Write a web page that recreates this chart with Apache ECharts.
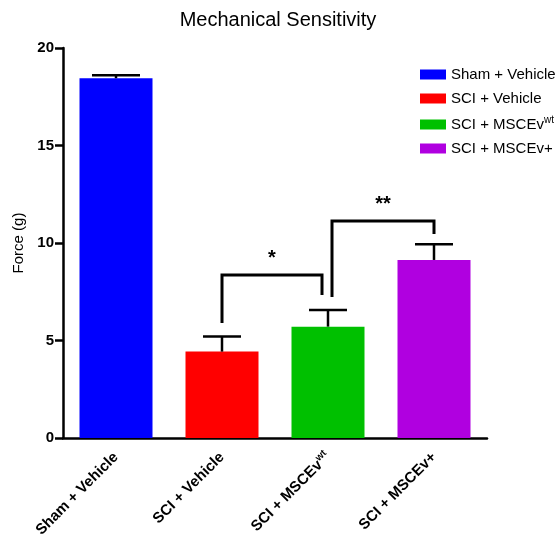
<!DOCTYPE html>
<html>
<head>
<meta charset="utf-8">
<script src="https://cdn.jsdelivr.net/npm/echarts@6/dist/echarts.min.js"></script>
<style>html,body{margin:0;padding:0;background:#fff;}#c{width:556px;height:535px;}</style>
</head>
<body>
<div id="c"></div>
<script>
// ---- data ----
var categories = ['Sham + Vehicle', 'SCI + Vehicle', 'SCI + MSCEv^wt', 'SCI + MSCEv+'];
var means = [18.45, 4.43, 5.71, 9.13];
var sems = [0.15, 0.77, 0.85, 0.80];
var colors = ['#0000ff', '#ff0000', '#00c000', '#b000e0'];
var yTicks = [0, 5, 10, 15, 20];
// brackets: [fromCat, toCat, yTop, yLeftEnd, yRightEnd, label, fromOffsetPx, toOffsetPx]
var brackets = [
  [1, 2, 8.36, 5.9, 7.33, '*', 0, -6],
  [2, 3, 11.13, 7.23, 10.46, '**', 4, 0]
];

var FONT = '"Liberation Sans", Arial, sans-serif';

function fmtLabel(s) {
  var i = s.indexOf('^');
  if (i < 0) return '{n|' + s + '}';
  return '{n|' + s.slice(0, i) + '}{s|' + s.slice(i + 1) + '}';
}

var series = categories.map(function (c, i) {
  var d = categories.map(function (_, j) { return j === i ? means[i] : '-'; });
  return {
    name: c, type: 'bar', data: d, barWidth: 73, barGap: '-100%',
    itemStyle: { color: colors[i] }, silent: true
  };
});

series.push({
  type: 'custom', silent: true, z: 5,
  data: means.map(function (m, i) { return [i, m, sems[i]]; }),
  renderItem: function (params, api) {
    var x = api.value(0), m = api.value(1), e = api.value(2);
    var p0 = api.coord([x, m]);
    var p1 = api.coord([x, m + e]);
    var hw = params.dataIndex === 0 ? 24 : 19;
    return {
      type: 'group',
      children: [
        { type: 'line', shape: { x1: p0[0], y1: p0[1], x2: p1[0], y2: p1[1] }, style: { stroke: '#000', lineWidth: 2.5 } },
        { type: 'line', shape: { x1: p1[0] - hw, y1: p1[1], x2: p1[0] + hw, y2: p1[1] }, style: { stroke: '#000', lineWidth: 2.5 } }
      ]
    };
  }
});

series.push({
  type: 'custom', silent: true, z: 6,
  data: brackets,
  renderItem: function (params, api) {
    var b = brackets[params.dataIndex];
    var a = api.coord([b[0], b[2]]);
    var c = api.coord([b[1], b[2]]);
    var la = api.coord([b[0], b[3]]);
    var rc = api.coord([b[1], b[4]]);
    var xl = a[0] + b[6], xr = c[0] + b[7];
    return {
      type: 'group',
      children: [
        { type: 'polyline', shape: { points: [[xl, la[1]], [xl, a[1]], [xr, a[1]], [xr, rc[1]]] },
          style: { stroke: '#000', lineWidth: 3, fill: null } },
        { type: 'text', style: { text: b[5], x: (xl + xr) / 2, y: a[1] - 6, align: 'center', verticalAlign: 'bottom',
          fill: '#000', font: 'bold 20px ' + FONT } }
      ]
    };
  }
});

var chart = echarts.init(document.getElementById('c'), null, { renderer: 'canvas' });
chart.setOption({
  animation: false,
  backgroundColor: '#fff',
  title: {
    text: 'Mechanical Sensitivity', left: 'center', top: 5,
    textStyle: { fontFamily: FONT, fontSize: 20, fontWeight: 'normal', color: '#000' }
  },
  legend: {
    orient: 'vertical', left: 415, top: 62, itemWidth: 26, itemHeight: 10, itemGap: 9,
    icon: 'rect', selectedMode: false,
    data: categories,
    formatter: function (n) { return fmtLabel(n); },
    textStyle: {
      color: '#000', fontFamily: FONT, fontSize: 15,
      rich: {
        n: { fontFamily: FONT, fontSize: 15, color: '#000' },
        s: { fontFamily: FONT, fontSize: 10, color: '#000', verticalAlign: 'top', padding: [0, 0, 9, 0] }
      }
    }
  },
  grid: { left: 63, right: 69, top: 48, bottom: 97, containLabel: false, outerBoundsMode: 'none' },
  xAxis: {
    type: 'category', data: categories, boundaryGap: true,
    axisLine: { lineStyle: { color: '#000', width: 2.5 } },
    axisTick: { alignWithLabel: true, length: 7, lineStyle: { color: '#000', width: 2.5 } },
    axisLabel: {
      rotate: 45, interval: 0, margin: 17, color: '#000',
      fontFamily: FONT, fontSize: 15, fontWeight: 'bold',
      formatter: function (v) { return fmtLabel(v); },
      rich: {
        n: { fontFamily: FONT, fontSize: 15, fontWeight: 'bold', color: '#000' },
        s: { fontFamily: FONT, fontSize: 10, fontWeight: 'bold', color: '#000', verticalAlign: 'top', padding: [0, 0, 9, 0] }
      }
    }
  },
  yAxis: {
    type: 'value', min: yTicks[0], max: yTicks[yTicks.length - 1], interval: 5,
    name: 'Force (g)', nameLocation: 'middle', nameGap: 33, nameRotate: 90,
    nameTextStyle: { fontFamily: FONT, fontSize: 15, color: '#000' },
    axisLine: { show: true, lineStyle: { color: '#000', width: 2.5 } },
    axisTick: { show: true, length: 8, lineStyle: { color: '#000', width: 2.5 } },
    splitLine: { show: false },
    axisLabel: { margin: 9, color: '#000', fontFamily: FONT, fontSize: 15, fontWeight: 'bold' }
  },
  series: series
});
</script>
</body>
</html>
